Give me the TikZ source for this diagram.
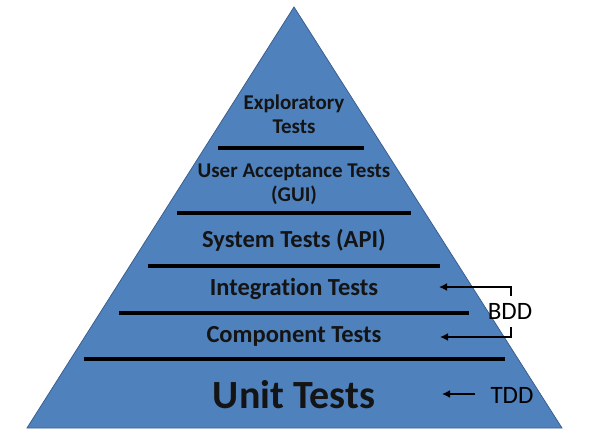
\documentclass[tikz,border=0pt]{standalone}
\usepackage{fontspec}
\setmainfont{Carlito}[RawFeature=-liga]
\usetikzlibrary{arrows.meta}
\definecolor{pyrfill}{HTML}{4F81BD}
\definecolor{pyredge}{HTML}{3A5F8E}
\definecolor{txt}{HTML}{141414}
\tikzset{
  layer/.style={line width=3.6pt, draw=black},
  lbl/.style={font=\bfseries\fontsize{21}{24}\selectfont, text=txt, align=center, inner sep=0pt},
  midlbl/.style={lbl, font=\bfseries\fontsize{24.5}{27}\selectfont},
  side/.style={font=\fontsize{25}{27}\selectfont, text=black, inner sep=0pt},
  pointer/.style={line width=2.5pt, -{Latex[length=8pt,width=8pt]}},
}
\begin{document}
\begin{tikzpicture}[x=1pt,y=-1pt]
\useasboundingbox (0,0) rectangle (600,440);
\fill[white] (0,0) rectangle (600,440);
% pyramid
\draw[fill=pyrfill, draw=pyredge, line width=0.8pt] (27,428) -- (294,7) -- (562,428) -- cycle;
% layer separators
\draw[layer] (218,148) -- (364,148);
\draw[layer] (177,213) -- (411,213);
\draw[layer] (148,266) -- (440,266);
\draw[layer] (119,313) -- (469,313);
\draw[layer] (84,359) -- (505,359);
% labels
\node[lbl] (expl) at (294,114) {Exploratory\\Tests};
\node[lbl] (uat) at (294,184) {User Acceptance Tests\\(GUI)};
\node[midlbl] (sys) at (294,240) {System Tests (API)};
\node[midlbl] (integ) at (294,289) {Integration Tests};
\node[midlbl] (comp) at (294,336) {Component Tests};
\node[lbl, font=\bfseries\fontsize{40}{44}\selectfont] (unit) at (294,395) {Unit Tests};
% side labels
\node[side] (bdd) at (510,311) {BDD};
\node[side] (tdd) at (512,395) {TDD};
% arrows
\coordinate (a1s) at (511,296);
\coordinate (a1c) at (511,287);
\coordinate (a1e) at (439,287);
\coordinate (a2s) at (511,327);
\coordinate (a2c) at (511,337);
\coordinate (a2e) at (440,337);
\coordinate (a3s) at (475,394);
\coordinate (a3e) at (442,394);
\draw[pointer] (a1s) -- (a1c) -- (a1e);
\draw[pointer] (a2s) -- (a2c) -- (a2e);
\draw[pointer] (a3s) -- (a3e);
\end{tikzpicture}
\end{document}
